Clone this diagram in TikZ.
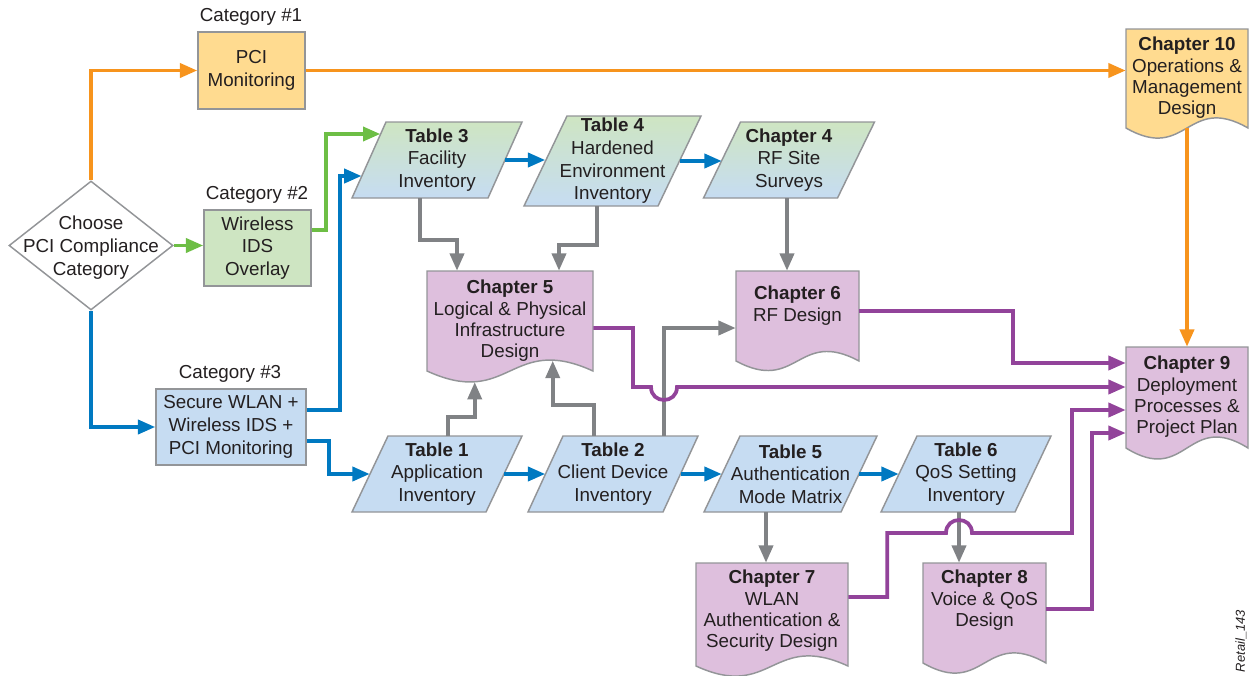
\documentclass[tikz,border=0pt]{standalone}
\usepackage{fontspec}
\setmainfont{Liberation Sans}
\usetikzlibrary{arrows.meta,calc,shapes.geometric}
\definecolor{txt}{HTML}{231F20}
\definecolor{bgray}{HTML}{939598}
\definecolor{agray}{HTML}{808285}
\definecolor{aorange}{HTML}{F7941D}
\definecolor{agreen}{HTML}{6DBE45}
\definecolor{ablue}{HTML}{0079C1}
\definecolor{apurple}{HTML}{92439A}
\definecolor{lorange}{HTML}{FFDB90}
\definecolor{lgreen}{HTML}{CEE5C2}
\definecolor{lblue}{HTML}{C6DCF2}
\definecolor{lpurple}{HTML}{DEBFDD}

\tikzset{
  shapeborder/.style={draw=bgray, line width=1.1pt},
  boxtext/.style={align=center, text=txt, inner sep=0pt, font=\fontsize{14.1}{17}\selectfont},
  doctext/.style={boxtext, font=\fontsize{14.1}{16}\selectfont},
  rectbox/.style={boxtext, shapeborder, rectangle},
  hidden/.style={rectangle, inner sep=0pt},
  conn/.style={line width=2.8pt, -{Triangle[length=13pt,width=10.5pt]}},
  grayconn/.style={conn, draw=agray},
  orangeconn/.style={conn, draw=aorange},
  greenconn/.style={conn, draw=agreen},
  blueconn/.style={conn, draw=ablue},
  purpleconn/.style={conn, draw=apurple},
  paratable/.style={fill=lblue},
  paragrad/.style={top color=lgreen, bottom color=lblue},
}

% #1 name, #2 cx, #3 top, #4 bottom, #5 width, #6 slant, #7 fill style, #8 text
\newcommand\paranode[8]{%
  \path[shapeborder,#7] ({#2-#5/2-#6/2},#4) -- ({#2-#5/2+#6/2},#3) -- ({#2+#5/2+#6/2},#3) -- ({#2+#5/2-#6/2},#4) -- cycle;
  \node[hidden, boxtext, minimum width={#5*0.75pt}, minimum height={(#4-#3)*0.75pt}] (#1) at (#2,{(#3+#4)/2}) {#8};
}
% #1 name, #2 fill, #3 L, #4 T, #5 R, #6 bottom, #7 wave k, #8 text offset, #9 text
\newcommand\docnode[9]{%
  \path[shapeborder, fill=#2] (#3,#4) -- (#5,#4) -- (#5,#6) .. controls ({(#3+#5)/2},{#6-#7}) and ({(#3+#5)/2},{#6+#7}) .. (#3,#6) -- cycle;
  \node[hidden, minimum width={(#5-#3)*0.75pt}, minimum height={(#6-#4)*0.75pt}] (#1) at ({(#3+#5)/2},{(#4+#6)/2}) {};
  \node[doctext, anchor=north] (#1t) at ({(#3+#5)/2},{#4+#8}) {#9};
}

\begin{document}
\begin{tikzpicture}[x=0.75pt, y=-0.75pt]
\useasboundingbox (0,0) rectangle (1249,675);

% ---- category boxes
\node[boxtext] (cat1) at (251,17) {Category \#1};
\node[rectbox, fill=lorange, minimum width=80.25pt, minimum height=57.75pt] (pci) at (251.5,70.5) {PCI\\Monitoring};
\node[boxtext] (cat2) at (257,195) {Category \#2};
\node[rectbox, fill=lgreen, minimum width=80.25pt, minimum height=57pt] (wids) at (257.5,248) {Wireless\\IDS\\Overlay};
\node[boxtext] (cat3) at (230,374) {Category \#3};
\node[rectbox, fill=lblue, minimum width=112.5pt, minimum height=57pt] (sec) at (231,427) {Secure WLAN +\\Wireless IDS +\\PCI Monitoring};

% ---- decision
\node[diamond, shapeborder, fill=white, inner sep=0pt, minimum width=123pt, minimum height=96.75pt] (dia) at (91,245.5) {};
\node[boxtext] (diat) at (91,247.5) {Choose\\PCI Compliance\\Category};

% ---- parallelograms
\paranode{t3}{437}{122}{198}{136}{34}{paragrad}{\textbf{Table 3}\\Facility\\Inventory}
\paranode{t4}{612.5}{116}{206}{134}{43}{paragrad}{\fontsize{14.1}{16}\selectfont\textbf{Table 4}\\Hardened\\Environment\\Inventory}
\paranode{ch4}{789}{122}{198}{134}{37}{paragrad}{\textbf{Chapter 4}\\RF Site\\Surveys}
\paranode{t1}{437}{436}{512}{134}{36}{paratable}{\textbf{Table 1}\\Application\\Inventory}
\paranode{t2}{613}{436}{512}{135}{35}{paratable}{\textbf{Table 2}\\Client Device\\Inventory}
\paranode{t5}{790.5}{436}{512}{137}{36}{paratable}{\textbf{Table 5}\\Authentication\\Mode Matrix}
\paranode{t6}{966}{436}{512}{134}{36}{paratable}{\textbf{Table 6}\\QoS Setting\\Inventory}

% ---- documents
\docnode{ch5}{lpurple}{427}{271}{593}{371}{38}{9}{\textbf{Chapter 5}\\Logical \& Physical\\Infrastructure\\Design}
\docnode{ch6}{lpurple}{736}{271}{859}{361}{33}{15}{\textbf{Chapter 6}\\RF Design}
\docnode{ch7}{lpurple}{696}{563}{848}{666}{35}{7}{\textbf{Chapter 7}\\WLAN\\Authentication \&\\Security Design}
\docnode{ch8}{lpurple}{923}{563}{1046}{663}{35}{7}{\textbf{Chapter 8}\\Voice \& QoS\\Design}
\docnode{ch9}{lpurple}{1126}{347}{1248}{448}{38}{9}{\textbf{Chapter 9}\\Deployment\\Processes \&\\Project Plan}
\docnode{ch10}{lorange}{1126}{29}{1248}{128}{35}{8}{\textbf{Chapter 10}\\Operations \&\\Management\\Design}

\node[inner sep=0pt, text=txt, rotate=90, font=\fontsize{9.75}{11}\selectfont\itshape] (tag) at (1241,641) {Retail\_143};

% ---- helper coordinates
\coordinate (t3g) at ($(t3.west)+(11.6,-26)$);
\coordinate (t3b) at ($(t3.west)+(-7.2,16)$);
\coordinate (g3) at ($(t3.south)+(-17,0)$);
\coordinate (g4) at ($(t4.south)+(-15.5,0)$);
\coordinate (gc4) at ($(ch4.south)+(-2,0)$);
\coordinate (g1) at ($(t1.north)+(11,0)$);
\coordinate (g2a) at ($(t2.north)+(-19,0)$);
\coordinate (g2b) at ($(t2.north)+(51,0)$);
\coordinate (g5) at ($(t5.south)+(-24.5,0)$);
\coordinate (g6) at ($(t6.south)+(-7,0)$);

% ---- orange
\draw[orangeconn] (dia.north) |- (pci.west);
\draw[orangeconn] (pci.east) -- (pci.east -| ch10.west);
\draw[orangeconn] (ch10.south) -- (ch10.south |- ch9.north);

% ---- green
\draw[greenconn] (dia.east) -- (dia.east -| wids.west);
\draw[greenconn] ($(wids.east)+(0,-18)$) -- ++(14,0) |- (t3g);

% ---- blue
\draw[blueconn] (dia.south) |- (sec.west);
\draw[blueconn] ($(sec.east)+(0,-17)$) -- ++(33,0) |- (t3b);
\draw[blueconn] ($(sec.east)+(0,14)$) -- ++(22,0) |- (t1.west);
\draw[blueconn] (t3.east) -- (t3.east -| t4.west);
\draw[blueconn] (t4.east) -- (t4.east -| ch4.west);
\draw[blueconn] (t1.east) -- (t2.west);
\draw[blueconn] (t2.east) -- (t5.west);
\draw[blueconn] (t5.east) -- (t6.west);

% ---- gray
\draw[grayconn] (g3) -- ++(0,42) -| ($(ch5.north)+(-53,0)$);
\draw[grayconn] (g4) -- ++(0,39) -| ($(ch5.north)+(49,0)$);
\draw[grayconn] (gc4) -- (gc4 |- ch6.north);
\draw[grayconn] (g1) -- ++(0,-19) -| ($(ch5.south west)+(48,10.8)$);
\draw[grayconn] (g2a) -- ++(0,-31) -| ($(ch5.south west)+(126,-10.5)$);
\draw[grayconn] (g2b) |- ($(ch6.west)+(0,12)$);
\draw[grayconn] (g5) -- (g5 |- ch7.north);
\draw[grayconn] (g6) -- (g6 |- ch8.north);

% ---- purple
\draw[purpleconn] ($(ch5.east)+(0,7)$) -- (633,328) -- (633,387) -- (651,387)
   .. controls (651,404.3) and (677,404.3) .. (677,387) -- ($(ch9.west)+(0,-10.5)$);
\draw[purpleconn] ($(ch6.east)+(0,-5)$) -- ++(154,0) |- ($(ch9.west)+(0,-34.5)$);
\draw[purpleconn] ($(ch7.east)+(0,-17.5)$) -- ++(39,0) |- (946,533)
   .. controls (946,515.7) and (972,515.7) .. (972,533) -- (1072,533) |- ($(ch9.west)+(0,12.5)$);
\draw[purpleconn] ($(ch8.east)+(0,-4)$) -- ++(46,0) |- ($(ch9.west)+(0,35.5)$);
\end{tikzpicture}
\end{document}
